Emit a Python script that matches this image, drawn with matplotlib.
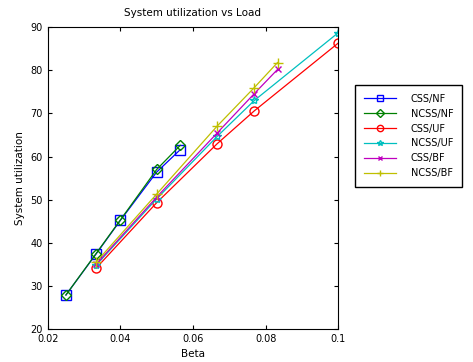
import matplotlib.pyplot as plt

# data
beta_nf = [0.025, 0.0333, 0.04, 0.05, 0.0565]
css_nf = [27.9, 37.4, 45.2, 56.4, 61.6]
ncss_nf = [27.9, 37.5, 45.3, 57.0, 62.6]

beta_uf = [0.0333, 0.05, 0.0667, 0.0769, 0.1]
css_uf = [34.1, 49.3, 63.0, 70.6, 86.3]
ncss_uf = [34.8, 50.2, 64.7, 73.0, 88.7]

beta_bf = [0.0333, 0.05, 0.0667, 0.0769, 0.0833]
css_bf = [35.0, 50.6, 65.5, 74.6, 80.2]
ncss_bf = [35.5, 51.3, 67.1, 76.0, 81.8]

labels = ['CSS/NF', 'NCSS/NF', 'CSS/UF', 'NCSS/UF', 'CSS/BF', 'NCSS/BF']

fig = plt.figure(figsize=(4.73, 3.62), dpi=100)
ax = fig.add_axes([0.101, 0.091, 0.614, 0.834])

ax.plot(beta_nf, css_nf, color='blue', marker='s', mfc='none', ms=6.5, lw=0.9, label=labels[0])
ax.plot(beta_nf, ncss_nf, color='green', marker='D', mfc='none', ms=5.5, lw=0.9, label=labels[1])
ax.plot(beta_uf, css_uf, color='red', marker='o', mfc='none', ms=6.5, lw=0.9, label=labels[2])
ax.plot(beta_uf, ncss_uf, color='c', marker='*', mfc='none', ms=6, lw=0.9, label=labels[3])
ax.plot(beta_bf, css_bf, color='m', marker='x', ms=4, lw=0.9, label=labels[4])
ax.plot(beta_bf, ncss_bf, color='y', marker='+', ms=7, lw=0.9, label=labels[5])

ax.set_xlim(0.02, 0.1)
ax.set_ylim(20, 90)
ax.set_xticks([0.02, 0.04, 0.06, 0.08, 0.1])
ax.set_xticklabels(['0.02', '0.04', '0.06', '0.08', '0.1'])
ax.tick_params(direction='in', top=True, right=True, labelsize=7, length=3)
for s in ax.spines.values():
    s.set_linewidth(0.8)

ax.set_title('System utilization vs Load', fontsize=7.5, pad=8)
ax.set_xlabel('Beta', fontsize=7.5)
ax.set_ylabel('System utilization', fontsize=7.5)

fig.legend(loc='upper left', bbox_to_anchor=(0.751, 0.765), fontsize=7,
           fancybox=False, edgecolor='black', framealpha=1, markerscale=0.7,
           numpoints=1, handlelength=3.3, handletextpad=1.5, labelspacing=0.5,
           borderpad=0.9, borderaxespad=0, frameon=True)

fig.savefig('out.png', dpi=100)
